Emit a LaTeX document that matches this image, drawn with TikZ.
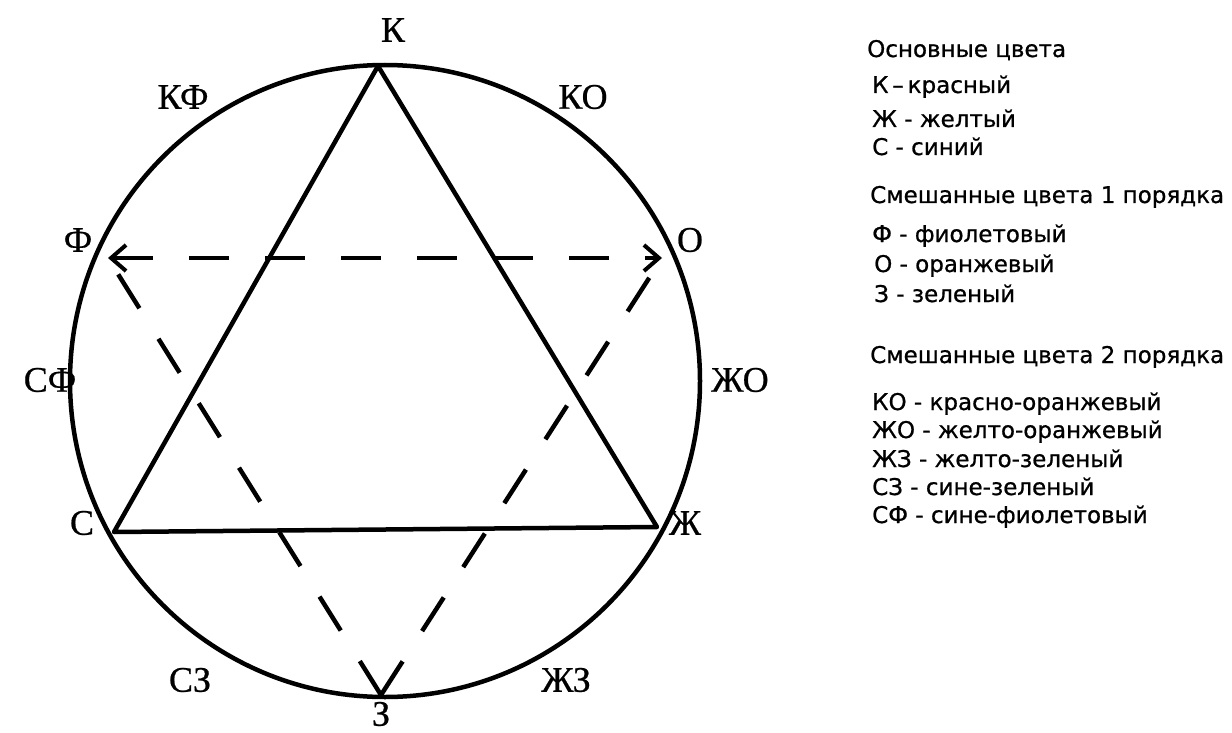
\documentclass[tikz,border=0pt]{standalone}
\usepackage{fontspec}
\setmainfont{Liberation Serif}
\newfontfamily\labelfont[FakeBold=0.6]{Liberation Serif}
\newfontfamily\legendfont[FakeBold=0.8]{DejaVu Sans}
\usetikzlibrary{arrows.meta,shapes.geometric}
\begin{document}
\begin{tikzpicture}[x=1pt,y=-1pt,
  lbl/.style={font=\labelfont\fontsize{36}{40}\selectfont, inner sep=0pt},
  leg/.style={font=\legendfont\fontsize{23}{27}\selectfont, anchor=base west, inner sep=0pt},
  solidline/.style={line width=4.5pt, line join=round},
  dashline/.style={line width=4.5pt, dash pattern=on 40pt off 36pt},
  barb/.tip={Straight Barb[length=15pt,width=26pt,line width=4pt]}
]
\useasboundingbox[fill=white] (0,0) rectangle (1232,733);
% circle
\node[draw, solidline, ellipse, minimum width=630pt, minimum height=632pt, inner sep=0pt] (circ) at (385,381) {};
% points
\coordinate (K) at (378,66);
\coordinate (C) at (114,532);
\coordinate (Zh) at (657,527);
\coordinate (F) at (108,258);
\coordinate (O) at (662,258);
\coordinate (Z) at (381,695);
% triangle of primary colours
\draw[solidline] (K) -- (C) -- (Zh) -- cycle;
% dashed triangle
\draw[dashline, barb-barb] (F) -- (O);
\draw[dashline] (Z) -- (F);
\draw[dashline] (Z) -- (O);
% labels on the circle
\node[lbl] (lK) at (393,30) {К};
\node[lbl] (lKF) at (183,97) {КФ};
\node[lbl] (lKO) at (583,97) {КО};
\node[lbl] (lF) at (78,240) {Ф};
\node[lbl] (lO) at (690,240) {О};
\node[lbl] (lSF) at (50,380) {СФ};
\node[lbl] (lZhO) at (740,380) {ЖО};
\node[lbl] (lC) at (82,523) {С};
\node[lbl] (lZh) at (685,523) {Ж};
\node[lbl] (lSZ) at (190,680) {СЗ};
\node[lbl] (lZhZ) at (566,680) {ЖЗ};
\node[lbl] (lZ) at (381,714) {З};
% legend
\node[leg] (t1) at (867,57) {Основные цвета};
\node[leg] (t2) at (872,93) {К\,–\,красный};
\node[leg] (t3) at (872,127) {Ж - желтый};
\node[leg] (t4) at (872,155) {С - синий};
\node[leg] (t5) at (870,203) {Смешанные цвета 1 порядка};
\node[leg] (t6) at (872,242) {Ф - фиолетовый};
\node[leg] (t7) at (874,272) {О - оранжевый};
\node[leg] (t8) at (874,302) {З - зеленый};
\node[leg] (t9) at (870,363) {Смешанные цвета 2 порядка};
\node[leg] (t10) at (872,410) {КО - красно-оранжевый};
\node[leg] (t11) at (872,438) {ЖО - желто-оранжевый};
\node[leg] (t12) at (872,467) {ЖЗ - желто-зеленый};
\node[leg] (t13) at (872,495) {СЗ - сине-зеленый};
\node[leg] (t14) at (872,523) {СФ - сине-фиолетовый};
\end{tikzpicture}
\end{document}
